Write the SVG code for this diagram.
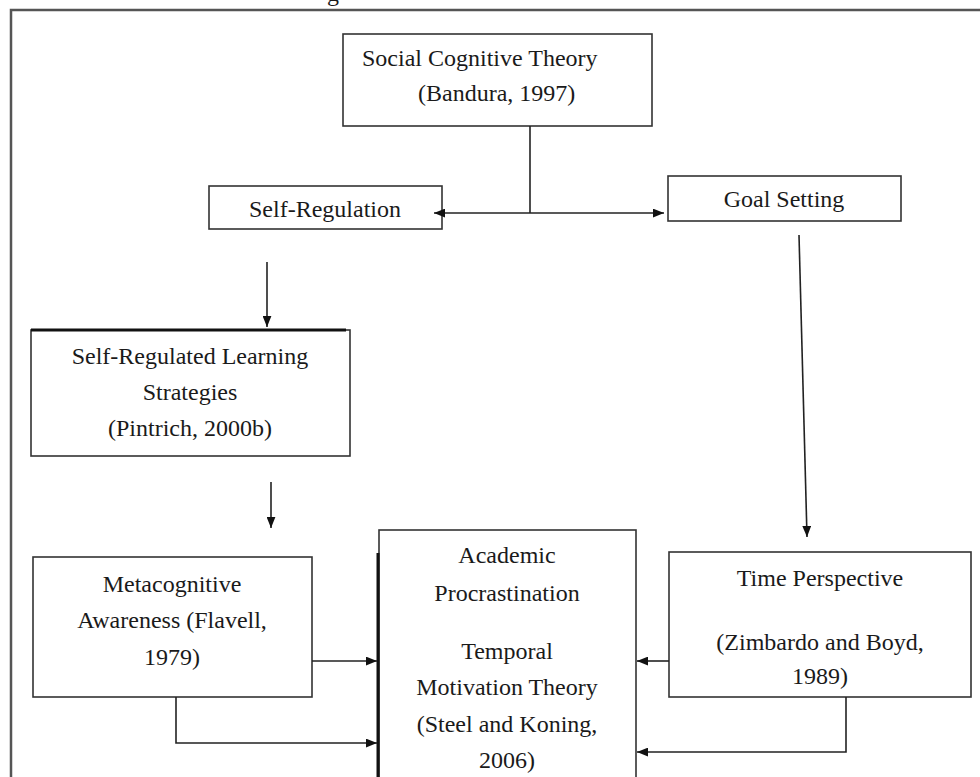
<svg xmlns="http://www.w3.org/2000/svg" width="980" height="777" viewBox="0 0 980 777">
  <style>
    .box { fill: #ffffff; stroke: #333333; stroke-width: 1.6; }
    .frame { fill: none; stroke: #555555; stroke-width: 2.5; }
    .lbl { font-family: "Liberation Serif", "Times New Roman", serif; font-size: 24px; fill: #1a1a1a; }
    .mid { text-anchor: middle; }
    .wire { fill: none; stroke: #222222; stroke-width: 1.6; }
  </style>
  <defs>
    <marker id="head" viewBox="0 0 10 8" refX="10" refY="4" markerWidth="11" markerHeight="9" markerUnits="userSpaceOnUse" orient="auto-start-reverse">
      <path d="M0,0 L10,4 L0,8 z" fill="#111111"/>
    </marker>
  </defs>

  <rect width="980" height="777" fill="#ffffff"/>

  <!-- caption line above the frame (cut by the page edge) -->
  <text class="lbl" x="327" y="0.5">g</text>

  <!-- outer frame, open to the right and bottom -->
  <path class="frame" d="M11 777 V10 H980"/>

  <g id="social-cognitive-theory">
    <rect class="box" x="343" y="34" width="309" height="92"/>
    <text class="lbl" x="362" y="66">Social Cognitive Theory</text>
    <text class="lbl" x="418" y="101">(Bandura, 1997)</text>
  </g>

  <g id="self-regulation">
    <rect class="box" x="209" y="186" width="233" height="43"/>
    <text class="lbl mid" x="325" y="217">Self-Regulation</text>
  </g>

  <g id="goal-setting">
    <rect class="box" x="668" y="176" width="233" height="45"/>
    <text class="lbl mid" x="784" y="207">Goal Setting</text>
  </g>

  <g id="srl-strategies">
    <rect class="box" x="31" y="330" width="319" height="126"/>
    <line x1="31" y1="330" x2="346" y2="330" stroke="#111111" stroke-width="3"/>
    <text class="lbl mid" x="190" y="364">Self-Regulated Learning</text>
    <text class="lbl mid" x="190" y="400">Strategies</text>
    <text class="lbl mid" x="190" y="436">(Pintrich, 2000b)</text>
  </g>

  <g id="metacognitive-awareness">
    <rect class="box" x="33" y="557" width="279" height="140"/>
    <text class="lbl mid" x="172" y="592">Metacognitive</text>
    <text class="lbl mid" x="172" y="628">Awareness (Flavell,</text>
    <text class="lbl mid" x="172" y="665">1979)</text>
  </g>

  <g id="academic-procrastination">
    <rect class="box" x="379" y="530" width="257" height="260"/>
    <line x1="378" y1="553" x2="378" y2="777" stroke="#111111" stroke-width="3"/>
    <text class="lbl mid" x="507" y="563">Academic</text>
    <text class="lbl mid" x="507" y="601">Procrastination</text>
    <text class="lbl mid" x="507" y="659">Temporal</text>
    <text class="lbl mid" x="507" y="695">Motivation Theory</text>
    <text class="lbl mid" x="507" y="732">(Steel and Koning,</text>
    <text class="lbl mid" x="507" y="768">2006)</text>
  </g>

  <g id="time-perspective">
    <rect class="box" x="669" y="552" width="302" height="145"/>
    <text class="lbl mid" x="820" y="586">Time Perspective</text>
    <text class="lbl mid" x="820" y="650">(Zimbardo and Boyd,</text>
    <text class="lbl mid" x="820" y="684">1989)</text>
  </g>

  <g id="connectors">
    <path class="wire" d="M530 126 V213"/>
    <path class="wire" d="M434 213 H664" marker-start="url(#head)" marker-end="url(#head)"/>
    <path class="wire" d="M799 235 L807 537" marker-end="url(#head)"/>
    <path class="wire" d="M267 262 V327" marker-end="url(#head)"/>
    <path class="wire" d="M271 482 V528" marker-end="url(#head)"/>
    <path class="wire" d="M312 661 H377" marker-end="url(#head)"/>
    <path class="wire" d="M176 697 V743 H377" marker-end="url(#head)"/>
    <path class="wire" d="M669 661 H637" marker-end="url(#head)"/>
    <path class="wire" d="M846 697 V752 H637" marker-end="url(#head)"/>
  </g>
</svg>
